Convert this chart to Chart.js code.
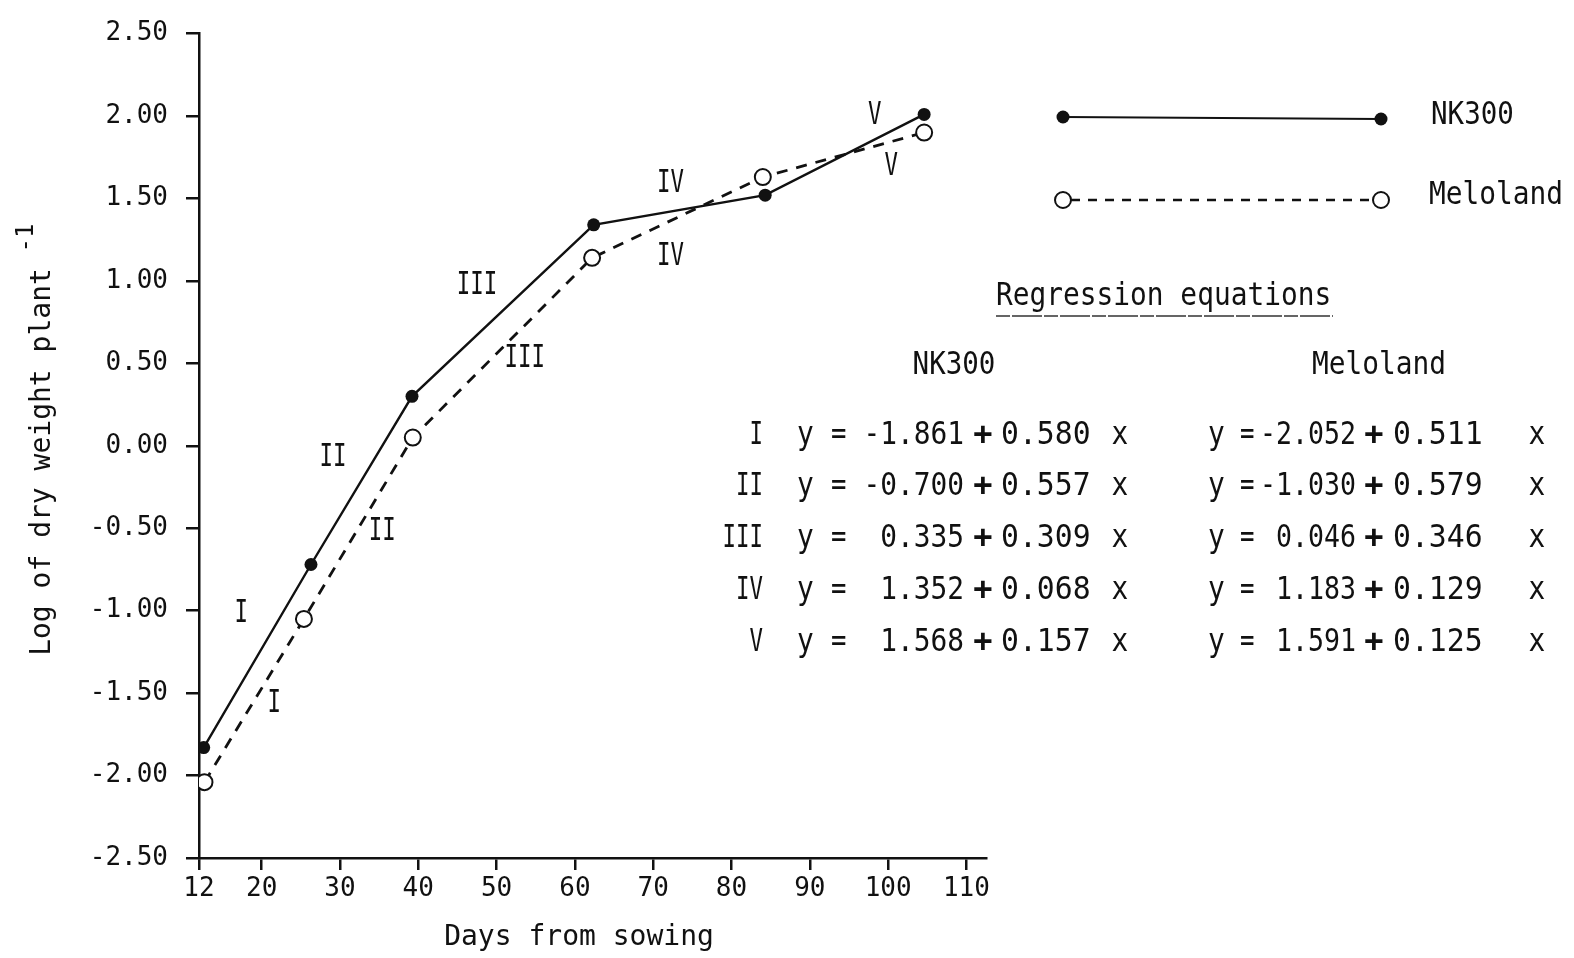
<!DOCTYPE html>
<html>
<head>
<meta charset="utf-8">
<script src="https://cdn.jsdelivr.net/npm/chart.js@4/dist/chart.umd.min.js"></script>
<style>
  html, body { margin: 0; padding: 0; background: #ffffff; }
  #wrap { width: 1574px; height: 958px; position: relative; }
</style>
</head>
<body>
<div id="wrap"><canvas id="c" width="1574" height="958"></canvas></div>
<script>
// ---- data ----
const nkDays   = [12.6, 26.3, 39.2, 62.4, 84.3, 104.6];
const nkLogDW  = [-1.83, -0.72, 0.30, 1.34, 1.52, 2.01];
const meDays   = [12.7, 25.4, 39.3, 62.2, 84.0, 104.6];
const meLogDW  = [-2.04, -1.05, 0.05, 1.14, 1.63, 1.90];

const xTickValues = [12, 20, 30, 40, 50, 60, 70, 80, 90, 100, 110];

const stageNames = ['I', 'II', 'III', 'IV', 'V'];
const nkStageX = [17.4, 29.1, 47.5, 72.2, 98.3];
const nkStageY = [-1.02, -0.07, 0.97, 1.59, 2.00];
const meStageX = [21.6, 35.4, 53.6, 72.2, 100.4];
const meStageY = [-1.565, -0.52, 0.53, 1.15, 1.69];

const nkIntercept = [-1.861, -0.700, 0.335, 1.352, 1.568];
const nkSlope     = [0.580, 0.557, 0.309, 0.068, 0.157];
const meIntercept = [-2.052, -1.030, 0.046, 1.183, 1.591];
const meSlope     = [0.511, 0.579, 0.346, 0.129, 0.125];

const seriesNames = ['NK300', 'Meloland'];

// ---- drawing ----
const MONO = "'DejaVu Sans Mono', 'Liberation Mono', monospace";
const INK = '#111111';

function txt(ctx, s, x, y, size, align, sx, rot, weight) {
  ctx.save();
  ctx.translate(x, y);
  if (rot) ctx.rotate(rot);
  ctx.scale(sx || 1, 1);
  ctx.font = (weight || 'normal') + ' ' + size + 'px ' + MONO;
  ctx.textAlign = align || 'left';
  ctx.textBaseline = 'middle';
  ctx.fillStyle = INK;
  ctx.fillText(s, 0, 0);
  ctx.restore();
}

const extras = {
  id: 'extras',
  afterDraw(chart) {
    const ctx = chart.ctx;
    const xs = chart.scales.x, ys = chart.scales.y;

    // stage labels on the curves
    stageNames.forEach((n, i) => {
      txt(ctx, n, xs.getPixelForValue(nkStageX[i]), ys.getPixelForValue(nkStageY[i]), 32, 'center', 0.7);
      txt(ctx, n, xs.getPixelForValue(meStageX[i]), ys.getPixelForValue(meStageY[i]), 32, 'center', 0.7);
    });

    // axis titles
    txt(ctx, 'Days from sowing', 579, 938, 28, 'center', 1);
    txt(ctx, 'Log of dry weight plant', 43, 462, 28, 'center', 1, -Math.PI / 2);
    txt(ctx, '-1', 27, 238, 24, 'center', 1, -Math.PI / 2);

    // legend
    ctx.save();
    ctx.strokeStyle = INK;
    ctx.lineWidth = 2.2;
    ctx.beginPath(); ctx.moveTo(1063, 117); ctx.lineTo(1381, 119); ctx.stroke();
    ctx.fillStyle = INK;
    [[1063, 117], [1381, 119]].forEach(p => { ctx.beginPath(); ctx.arc(p[0], p[1], 6.5, 0, Math.PI * 2); ctx.fill(); });
    ctx.setLineDash([9, 8]);
    ctx.lineWidth = 2.4;
    ctx.beginPath(); ctx.moveTo(1071, 200); ctx.lineTo(1373, 200); ctx.stroke();
    ctx.setLineDash([]);
    ctx.lineWidth = 2;
    ctx.fillStyle = '#ffffff';
    [[1063, 200], [1381, 200]].forEach(p => { ctx.beginPath(); ctx.arc(p[0], p[1], 8, 0, Math.PI * 2); ctx.fill(); ctx.stroke(); });
    ctx.restore();
    txt(ctx, seriesNames[0], 1431, 116, 32, 'left', 0.86);
    txt(ctx, seriesNames[1], 1429, 196, 32, 'left', 0.87);

    // regression equations block
    txt(ctx, 'Regression equations', 996, 297, 32, 'left', 0.87);
    ctx.save();
    ctx.strokeStyle = '#333';
    ctx.lineWidth = 1.4;
    ctx.setLineDash([14, 2, 30, 2]);
    ctx.beginPath(); ctx.moveTo(996, 316); ctx.lineTo(1333, 316); ctx.stroke();
    ctx.restore();
    txt(ctx, seriesNames[0], 954, 366, 32, 'center', 0.86);
    txt(ctx, seriesNames[1], 1379, 366, 32, 'center', 0.87);

    const rowY = [436, 487, 539, 591, 643];
    stageNames.forEach((n, i) => {
      const y = rowY[i];
      txt(ctx, n, 763, y, 32, 'right', 0.7);
      txt(ctx, 'y', 797, y, 32, 'left', 0.87);
      txt(ctx, '=', 831, y, 32, 'left', 0.8);
      txt(ctx, nkIntercept[i].toFixed(3), 964, y, 32, 'right', 0.87);
      txt(ctx, '+', 983, y, 32, 'center', 1, 0, 'bold');
      txt(ctx, nkSlope[i].toFixed(3), 1001, y, 32, 'left', 0.93);
      txt(ctx, 'x', 1120, y, 32, 'center', 0.87);

      txt(ctx, 'y', 1208, y, 32, 'left', 0.87);
      txt(ctx, '=', 1240, y, 32, 'left', 0.75);
      txt(ctx, meIntercept[i].toFixed(3), 1356, y, 32, 'right', 0.83);
      txt(ctx, '+', 1374, y, 32, 'center', 1, 0, 'bold');
      txt(ctx, meSlope[i].toFixed(3), 1393, y, 32, 'left', 0.93);
      txt(ctx, 'x', 1537, y, 32, 'center', 0.87);
    });
  }
};

const toXY = (xs, ys) => xs.map((x, i) => ({ x: x, y: ys[i] }));

new Chart(document.getElementById('c'), {
  type: 'line',
  data: {
    datasets: [
      {
        label: seriesNames[1],
        data: toXY(meDays, meLogDW),
        borderColor: INK,
        borderWidth: 2.8,
        borderDash: [11, 9],
        pointRadius: 8,
        pointBackgroundColor: '#ffffff',
        pointBorderColor: INK,
        pointBorderWidth: 2,
        tension: 0,
        order: 2
      },
      {
        label: seriesNames[0],
        data: toXY(nkDays, nkLogDW),
        borderColor: INK,
        borderWidth: 2.4,
        pointRadius: 6.5,
        pointBackgroundColor: INK,
        pointBorderColor: INK,
        pointBorderWidth: 0,
        tension: 0,
        order: 1
      }
    ]
  },
  options: {
    responsive: false,
    animation: false,
    devicePixelRatio: 1,
    layout: { padding: { top: 33, right: 588, bottom: 0, left: 0 } },
    plugins: { legend: { display: false }, tooltip: { enabled: false } },
    scales: {
      x: {
        type: 'linear',
        min: 12,
        max: 112.5,
        afterBuildTicks: (s) => { s.ticks = xTickValues.map(v => ({ value: v })); },
        afterFit: (s) => { s.height = 100; },
        border: { display: true, color: INK, width: 2.5 },
        grid: { drawOnChartArea: false, drawTicks: true, tickLength: 12, color: INK, lineWidth: 2.5 },
        ticks: { color: INK, font: { family: MONO, size: 26 }, padding: 4, maxRotation: 0, autoSkip: false,
                 callback: (v) => String(v) },
        title: { display: false }
      },
      y: {
        type: 'linear',
        min: -2.5,
        max: 2.5,
        afterFit: (s) => { s.width = 199; },
        border: { display: true, color: INK, width: 2.5 },
        grid: { drawOnChartArea: false, drawTicks: true, tickLength: 13, color: INK, lineWidth: 2.5 },
        ticks: { stepSize: 0.5, color: INK, font: { family: MONO, size: 26 }, padding: 18,
                 callback: (v) => Number(v).toFixed(2) },
        title: { display: false }
      }
    }
  },
  plugins: [extras]
});
</script>
</body>
</html>
